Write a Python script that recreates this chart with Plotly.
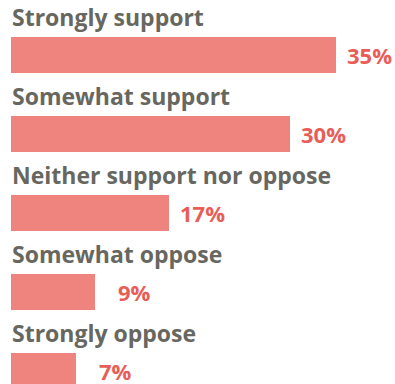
import plotly.graph_objects as go

categories = ["Strongly support", "Somewhat support", "Neither support nor oppose",
              "Somewhat oppose", "Strongly oppose"]
values = [35, 30, 17, 9, 7]
value_labels = ["35%", "30%", "17%", "9%", "7%"]

BAR_COLOR = "#ef847e"
LABEL_COLOR = "#e85d57"
TEXT_COLOR = "#67675f"
FONT = "Open Sans"

rows = list(range(len(categories)))

fig = go.Figure()
fig.add_trace(go.Bar(
    x=values, y=rows, orientation="h",
    marker=dict(color=BAR_COLOR, line=dict(width=0)),
    width=36 / 79, hoverinfo="skip",
))

annotations = []
for i, (cat, v, lab) in enumerate(zip(categories, values, value_labels)):
    annotations.append(dict(
        x=0, y=i, xref="x", yref="y", text="<b>%s</b>" % cat,
        showarrow=False, xanchor="left", yanchor="middle", yshift=38, xshift=-1,
        font=dict(family=FONT, size=23, color=TEXT_COLOR),
    ))
    shift = 11 + (12 if v < 10 else 0)
    annotations.append(dict(
        x=v, y=i, xref="x", yref="y", text="<b>%s</b>" % lab,
        showarrow=False, xanchor="left", yanchor="middle", xshift=shift - 2,
        font=dict(family=FONT, size=22, color=LABEL_COLOR),
    ))

px_per_unit = 9.286
row_px = 79
y_top = -55 / row_px
y_bot = y_top + 384 / row_px

fig.update_layout(
    width=395, height=384,
    margin=dict(l=0, r=0, t=0, b=0),
    paper_bgcolor="white", plot_bgcolor="white",
    showlegend=False,
    xaxis=dict(range=[-11 / px_per_unit, 384 / px_per_unit], visible=False, fixedrange=True),
    yaxis=dict(range=[y_bot, y_top], visible=False, fixedrange=True),
    annotations=annotations,
    bargap=0,
)

fig.write_html("out.html", config={"displayModeBar": False})
